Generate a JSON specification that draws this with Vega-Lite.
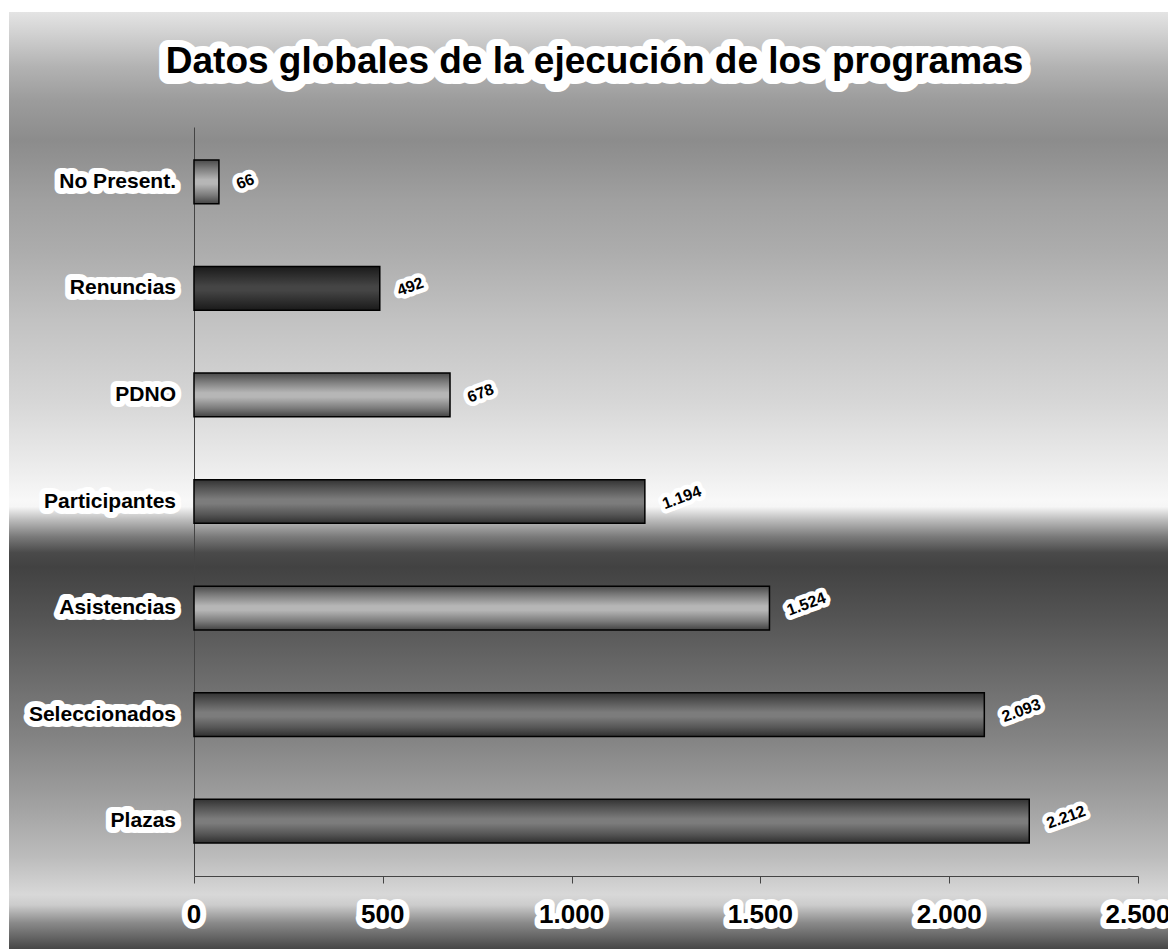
{
  "$schema": "https://vega.github.io/schema/vega-lite/v6.json",
  "width": 1159,
  "height": 937,
  "autosize": {"type": "none"},
  "padding": {"left": 9, "top": 12, "right": 0, "bottom": 0},
  "background": "white",
  "title": {
    "text": "Datos globales de la ejecución de los programas",
    "subtitle": "Datos globales de la ejecución de los programas",
    "anchor": "middle",
    "frame": "group",
    "orient": "top",
    "font": "Liberation Sans",
    "fontSize": 37,
    "fontWeight": "bold",
    "color": "white",
    "subtitleFont": "Liberation Sans",
    "subtitleFontSize": 37,
    "subtitleFontWeight": "bold",
    "subtitleColor": "black",
    "subtitlePadding": -39,
    "offset": -73,
    "dx": 6
  },
  "data": {
    "values": [
      {"cat": "No Present.", "value": 66},
      {"cat": "Renuncias", "value": 492},
      {"cat": "PDNO", "value": 678},
      {"cat": "Participantes", "value": 1194},
      {"cat": "Asistencias", "value": 1524},
      {"cat": "Seleccionados", "value": 2093},
      {"cat": "Plazas", "value": 2212}
    ]
  },
  "encoding": {
    "y": {
      "field": "cat",
      "type": "nominal",
      "scale": {
        "domain": ["No Present.", "Renuncias", "PDNO", "Participantes", "Asistencias", "Seleccionados", "Plazas"],
        "range": [115, 864],
        "paddingInner": 0.59,
        "paddingOuter": 0.31
      },
      "axis": {"orient": "left", "offset": -185, "labels": false, "ticks": false, "title": null, "grid": false, "domainColor": "#444444", "domainWidth": 1}
    },
    "x": {
      "field": "value",
      "type": "quantitative",
      "scale": {"domain": [0, 2500], "range": [185, 1129], "nice": false, "zero": true},
      "axis": {"orient": "bottom", "offset": -73, "labels": false, "title": null, "grid": false, "values": [0, 500, 1000, 1500, 2000, 2500], "tickSize": 7, "tickColor": "#444444", "tickWidth": 1, "domainColor": "#444444", "domainWidth": 1}
    }
  },
  "layer": [
    {
      "transform": [{"filter": "indexof(['No Present.','PDNO','Asistencias'], datum.cat) >= 0"}],
      "mark": {
        "type": "bar", "stroke": "black", "strokeWidth": 1.5,
        "color": {"gradient": "linear", "x1": 0, "y1": 0, "x2": 0, "y2": 1,
          "stops": [
            {"offset": 0, "color": "#4a4a4a"},
            {"offset": 0.2, "color": "#7c7c7c"},
            {"offset": 0.45, "color": "#b6b6b6"},
            {"offset": 0.55, "color": "#b6b6b6"},
            {"offset": 0.8, "color": "#7c7c7c"},
            {"offset": 1, "color": "#444444"}
          ]}
      }
    },
    {
      "transform": [{"filter": "indexof(['Participantes','Seleccionados','Plazas'], datum.cat) >= 0"}],
      "mark": {
        "type": "bar", "stroke": "black", "strokeWidth": 1.5,
        "color": {"gradient": "linear", "x1": 0, "y1": 0, "x2": 0, "y2": 1,
          "stops": [
            {"offset": 0, "color": "#333333"},
            {"offset": 0.2, "color": "#555555"},
            {"offset": 0.45, "color": "#7c7c7c"},
            {"offset": 0.55, "color": "#7c7c7c"},
            {"offset": 0.8, "color": "#555555"},
            {"offset": 1, "color": "#303030"}
          ]}
      }
    },
    {
      "transform": [{"filter": "datum.cat == 'Renuncias'"}],
      "mark": {
        "type": "bar", "stroke": "black", "strokeWidth": 1.5,
        "color": {"gradient": "linear", "x1": 0, "y1": 0, "x2": 0, "y2": 1,
          "stops": [
            {"offset": 0, "color": "#1a1a1a"},
            {"offset": 0.45, "color": "#454545"},
            {"offset": 0.55, "color": "#454545"},
            {"offset": 1, "color": "#1a1a1a"}
          ]}
      }
    },
    {
      "mark": {"type": "text", "align": "right", "baseline": "middle", "dx": -18, "font": "Liberation Sans", "fontWeight": "bold", "fontSize": 21, "fill": "white", "stroke": "white", "strokeWidth": 12, "strokeJoin": "round"},
      "encoding": {"x": {"datum": 0}, "text": {"field": "cat"}}
    },
    {
      "mark": {"type": "text", "align": "right", "baseline": "middle", "dx": -18, "font": "Liberation Sans", "fontWeight": "bold", "fontSize": 21, "fill": "black"},
      "encoding": {"x": {"datum": 0}, "text": {"field": "cat"}}
    },
    {
      "mark": {"type": "text", "align": "left", "baseline": "middle", "angle": 340, "dx": 16, "dy": 9, "font": "Liberation Sans", "fontWeight": "bold", "fontSize": 16, "fill": "white", "stroke": "white", "strokeWidth": 9, "strokeJoin": "round"},
      "encoding": {"text": {"field": "value", "type": "quantitative", "format": ",d"}}
    },
    {
      "mark": {"type": "text", "align": "left", "baseline": "middle", "angle": 340, "dx": 16, "dy": 9, "font": "Liberation Sans", "fontWeight": "bold", "fontSize": 16, "fill": "black"},
      "encoding": {"text": {"field": "value", "type": "quantitative", "format": ",d"}}
    },
    {
      "data": {"values": [{"value": 0}, {"value": 500}, {"value": 1000}, {"value": 1500}, {"value": 2000}, {"value": 2500}]},
      "mark": {"type": "text", "align": "center", "baseline": "middle", "dy": 94, "font": "Liberation Sans", "fontWeight": "bold", "fontSize": 26, "fill": "white", "stroke": "white", "strokeWidth": 12, "strokeJoin": "round"},
      "encoding": {"y": {"datum": "Plazas"}, "text": {"field": "value", "type": "quantitative", "format": ",d"}}
    },
    {
      "data": {"values": [{"value": 0}, {"value": 500}, {"value": 1000}, {"value": 1500}, {"value": 2000}, {"value": 2500}]},
      "mark": {"type": "text", "align": "center", "baseline": "middle", "dy": 94, "font": "Liberation Sans", "fontWeight": "bold", "fontSize": 26, "fill": "black"},
      "encoding": {"y": {"datum": "Plazas"}, "text": {"field": "value", "type": "quantitative", "format": ",d"}}
    }
  ],
  "config": {
    "locale": {"number": {"decimal": ",", "thousands": ".", "grouping": [3], "currency": ["", " €"]}},
    "style": {"group-title": {"stroke": "white", "strokeWidth": 18, "strokeJoin": "round"}},
    "view": {
      "stroke": null,
      "fill": {"gradient": "linear", "x1": 0, "y1": 0, "x2": 0, "y2": 1,
        "stops": [
          {"offset": 0, "color": "#e4e4e4"},
          {"offset": 0.022, "color": "#d2d2d2"},
          {"offset": 0.059, "color": "#b2b2b2"},
          {"offset": 0.094, "color": "#9c9c9c"},
          {"offset": 0.137, "color": "#8c8c8c"},
          {"offset": 0.158, "color": "#929292"},
          {"offset": 0.201, "color": "#a0a0a0"},
          {"offset": 0.254, "color": "#acacac"},
          {"offset": 0.329, "color": "#c2c2c2"},
          {"offset": 0.414, "color": "#d6d6d6"},
          {"offset": 0.489, "color": "#ededed"},
          {"offset": 0.521, "color": "#f8f8f8"},
          {"offset": 0.528, "color": "#f6f6f6"},
          {"offset": 0.542, "color": "#bcbcbc"},
          {"offset": 0.56, "color": "#7a7a7a"},
          {"offset": 0.577, "color": "#4a4a4a"},
          {"offset": 0.592, "color": "#424242"},
          {"offset": 0.617, "color": "#4a4a4a"},
          {"offset": 0.649, "color": "#555555"},
          {"offset": 0.67, "color": "#5d5d5d"},
          {"offset": 0.777, "color": "#848484"},
          {"offset": 0.848, "color": "#a2a2a2"},
          {"offset": 0.902, "color": "#bcbcbc"},
          {"offset": 0.942, "color": "#d8d8d8"},
          {"offset": 0.953, "color": "#cccccc"},
          {"offset": 0.972, "color": "#8a8a8a"},
          {"offset": 1, "color": "#464646"}
        ]}
    }
  }
}
